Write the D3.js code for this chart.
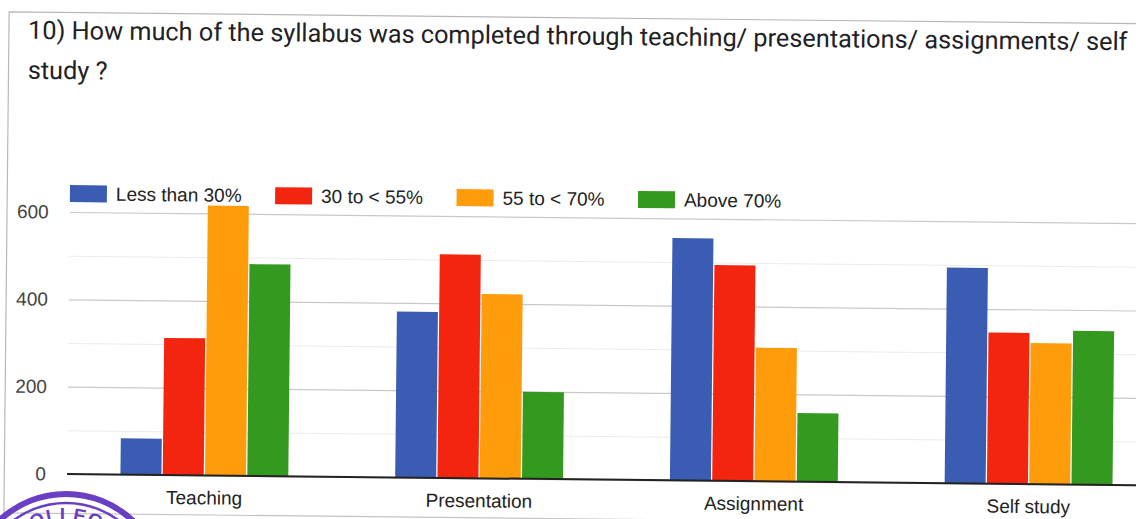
<!DOCTYPE html>
<html>
<head>
<meta charset="utf-8">
<script src="https://cdn.jsdelivr.net/npm/d3@7"></script>
<style>
  body { margin: 0; background: #fff; }
  svg { display: block; }
</style>
</head>
<body>
<div id="container"></div>
<script>
// Data
const categories = ["Teaching", "Presentation", "Assignment", "Self study"];
const seriesNames = ["Less than 30%", "30 to < 55%", "55 to < 70%", "Above 70%"];
const lessThan30 = [83, 380, 555, 494];
const from30to55 = [314, 512, 494, 346];
const from55to70 = [618, 422, 306, 323];
const above70 = [485, 199, 157, 352];
const yTicks = [0, 200, 400, 600];
const yMinorTicks = [100, 300, 500];
const colors = ["#3a5db3", "#f4250e", "#ff9c0b", "#34991f"];

const titleLines = [
  "10) How much of the syllabus was completed through teaching/ presentations/ assignments/ self",
  "study ?"
];

const seriesValues = [lessThan30, from30to55, from55to70, above70];
const rows = categories.map((c, i) => ({
  category: c,
  values: seriesNames.map((s, j) => ({ series: s, value: seriesValues[j][i], color: colors[j] }))
}));

const width = 1136;
const height = 519;
const margin = { left: 67, right: 1166, base: 474, top600: 212 };
const chartFont = "'Liberation Sans', Arial, sans-serif";

const svg = d3.select("#container")
  .append("svg")
  .attr("width", width)
  .attr("height", height);

// the scan is tilted a little, so the whole card is rotated
const root = svg.append("g")
  .attr("transform", "rotate(0.6," + margin.left + "," + margin.base + ")");

// card border
root.append("path")
  .attr("d", "M4.3,560 L4.3,12.5 L1300,12.5")
  .attr("fill", "none")
  .attr("stroke", "#b8b8b8")
  .attr("stroke-width", 1.2);

root.append("line")
  .attr("x1", 4.3).attr("x2", 1300)
  .attr("y1", 513.5).attr("y2", 513.5)
  .attr("stroke", "#c4c4c4")
  .attr("stroke-width", 1.2);

// title
const title = root.append("g").attr("font-family", "Roboto, 'Noto Sans', sans-serif")
  .attr("font-size", 20)
  .attr("fill", "#202124");

title.selectAll("text")
  .data(titleLines)
  .enter()
  .append("text")
  .attr("x", 23.5)
  .attr("y", (d, i) => 39.2 + i * 40)
  .text(d => d);

// fit first line to the width seen in the picture
const firstLine = title.select("text").node();
const natural = firstLine.getComputedTextLength();
const fitted = 20 * 1100 / natural;
title.attr("font-size", fitted);

// scales
const x0 = d3.scaleBand()
  .domain(categories)
  .range([margin.left, margin.right])
  .paddingInner(0.389)
  .paddingOuter(0.1945);

const x1 = d3.scaleBand()
  .domain(seriesNames)
  .range([0, x0.bandwidth()])
  .paddingInner(0.03);

const y = d3.scaleLinear()
  .domain([0, 600])
  .range([margin.base, margin.top600]);

// minor gridlines
root.append("g")
  .attr("transform", "translate(" + margin.left + ",0)")
  .call(d3.axisLeft(y).tickValues(yMinorTicks).tickSize(-1250).tickFormat(""))
  .call(g => g.select(".domain").remove())
  .call(g => g.selectAll("line").attr("stroke", "#ebebeb").attr("stroke-width", 1));

// major gridlines + labels
root.append("g")
  .attr("transform", "translate(" + margin.left + ",0)")
  .call(d3.axisLeft(y).tickValues(yTicks).tickSize(-1250).tickPadding(21))
  .call(g => g.select(".domain").remove())
  .call(g => g.selectAll("line").attr("stroke", "#c9c9c9").attr("stroke-width", 1.2))
  .call(g => g.selectAll("text")
    .attr("x", -21)
    .attr("font-family", chartFont)
    .attr("font-size", 19)
    .attr("fill", "#444"));

// bars
const groups = root.append("g")
  .selectAll("g")
  .data(rows)
  .enter()
  .append("g")
  .attr("transform", d => "translate(" + x0(d.category) + ",0)");

groups.selectAll("rect")
  .data(d => d.values)
  .enter()
  .append("rect")
  .attr("x", d => x1(d.series))
  .attr("width", x1.bandwidth())
  .attr("y", d => y(d.value))
  .attr("height", d => y(0) - y(d.value))
  .attr("fill", d => d.color);

// baseline
root.append("line")
  .attr("x1", margin.left).attr("x2", 1300)
  .attr("y1", y(0)).attr("y2", y(0))
  .attr("stroke", "#222")
  .attr("stroke-width", 2);

// category labels
root.append("g")
  .attr("transform", "translate(0," + y(0) + ")")
  .call(d3.axisBottom(x0).tickSize(0).tickPadding(15.5))
  .call(g => g.select(".domain").remove())
  .call(g => g.selectAll("text")
    .attr("font-family", chartFont)
    .attr("font-size", 19)
    .attr("fill", "#222"));

// legend
const legend = root.append("g")
  .attr("font-family", chartFont)
  .attr("font-size", 19)
  .attr("fill", "#222");

let lx = margin.left;
seriesNames.forEach((name, i) => {
  const item = legend.append("g").attr("transform", "translate(" + lx + ",185)");
  item.append("rect")
    .attr("width", 37)
    .attr("height", 17)
    .attr("fill", colors[i]);
  const t = item.append("text")
    .attr("x", 46)
    .attr("y", 8.5)
    .attr("dy", "0.35em")
    .text(name);
  lx += 46 + t.node().getComputedTextLength() + 33.5;
});

// purple college stamp in the corner of the scan
const stamp = svg.append("g")
  .attr("fill", "none")
  .attr("stroke", "#6b3fc4");
stamp.append("circle").attr("cx", 66).attr("cy", 591).attr("r", 97).attr("stroke-width", 6);
stamp.append("circle").attr("cx", 66).attr("cy", 591).attr("r", 88).attr("stroke-width", 2.5);
svg.append("path")
  .attr("id", "stampArc")
  .attr("d", "M-4,591 A70,70 0 0 1 136,591")
  .attr("fill", "none");
svg.append("text")
  .attr("font-family", chartFont)
  .attr("font-weight", "bold")
  .attr("font-size", 19)
  .attr("letter-spacing", 1)
  .attr("fill", "#6b3fc4")
  .append("textPath")
  .attr("href", "#stampArc")
  .attr("startOffset", "50%")
  .attr("text-anchor", "middle")
  .text("COLLEGE");
</script>
</body>
</html>
